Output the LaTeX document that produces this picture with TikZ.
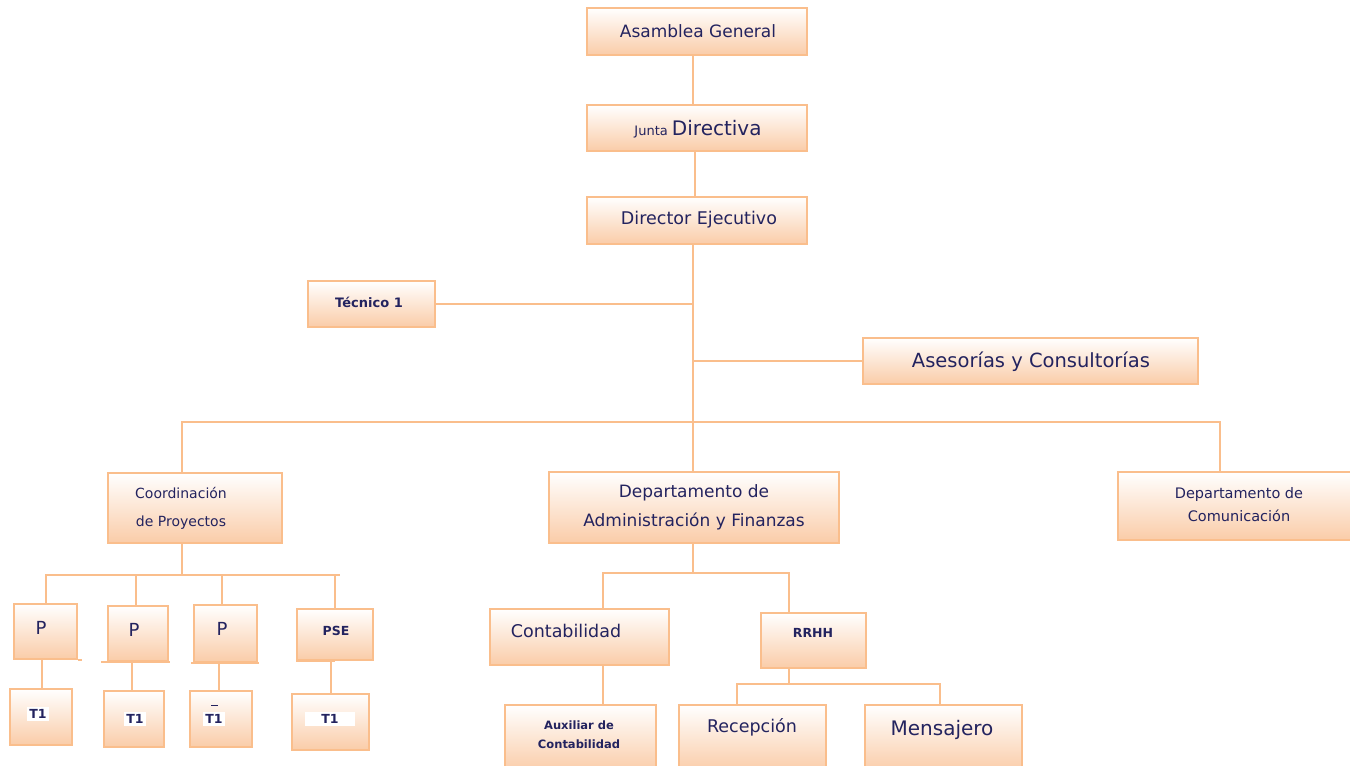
\documentclass[tikz,border=0pt]{standalone}
\usepackage{fontspec}
\setmainfont{DejaVu Sans}
\definecolor{bord}{RGB}{250,190,140}
\definecolor{peach}{RGB}{250,204,168}
\definecolor{ink}{RGB}{35,35,95}
\newcommand\orgbox[5]{\node[obox, minimum width={#4-#2}, minimum height={#5-#3}] (#1) at ({(#2+#4)/2},{(#3+#5)/2}) {};}
\tikzset{
  obox/.style={draw=bord, line width=2pt, top color=white, bottom color=peach, inner sep=0pt},
  link/.style={draw=bord, line width=2pt},
  lbl/.style={text=ink, inner sep=0pt, align=center},
  tlbl/.style={lbl, fill=white, inner sep=2pt, font=\bfseries\fontsize{12.5}{14}\selectfont},
}
\begin{document}
\begin{tikzpicture}[x=1pt,y=-1pt]
\useasboundingbox (0,0) rectangle (1350,766);
\fill[white] (0,0) rectangle (1350,766);
% boxes
\orgbox{asa}{587}{8}{807}{55}
\orgbox{jun}{587}{105}{807}{151}
\orgbox{dir}{587}{197}{807}{244}
\orgbox{tec}{308}{281}{435}{327}
\orgbox{ase}{863}{338}{1198}{384}
\orgbox{coo}{108}{473}{282}{543}
\orgbox{daf}{549}{472}{839}{543}
\orgbox{com}{1118}{472}{1360}{540}
\orgbox{pa}{14}{604}{77}{659}
\orgbox{pb}{108}{606}{168}{661}
\orgbox{pc}{194}{605}{257}{662}
\orgbox{pd}{297}{609}{373}{660}
\orgbox{ta}{10}{689}{72}{745}
\orgbox{tb}{104}{691}{164}{747}
\orgbox{tc}{190}{691}{252}{747}
\orgbox{td}{292}{694}{369}{750}
\orgbox{cont}{490}{609}{669}{665}
\orgbox{rrhh}{761}{613}{866}{668}
\orgbox{aux}{505}{705}{656}{772}
\orgbox{rec}{679}{705}{826}{772}
\orgbox{men}{865}{705}{1022}{772}
% small extensions under the P boxes
\draw[link] (pa.south east) -- ++(4,0);
\draw[link] (pb.south west) ++(-6,0) -- ++(69,0);
\draw[link] (pc.south west) ++(-2,0) -- ++(68,0);
\draw[link] (pd.south west) -- ++(39,0);
% coordinates
\coordinate (bus) at (693,422);
\coordinate (pbus) at (182,575);
\coordinate (dbus) at (693,573);
\coordinate (rbus) at (789,684);
% connectors
\draw[link] (asa.south -| 693,0) -- (jun.north -| 693,0);
\draw[link] (jun.south -| 695,0) -- (dir.north -| 695,0);
\draw[link] (dir.south -| bus) -- (daf.north -| bus);
\draw[link] (tec.east) -- (tec.east -| bus);
\draw[link] (ase.west) -- (ase.west -| bus);
\draw[link] (coo.north -| 182,0) -- (182,422) -- (1220,422) -- (com.north -| 1220,0);
\draw[link] (coo.south -| pbus) -- (pbus);
\draw[link] (pa.north -| 46,0) -- (46,575) -- (340,575);
\draw[link] (pb.north -| 136,0) -- (136,575);
\draw[link] (pc.north -| 222,0) -- (222,575);
\draw[link] (pd.north -| 335,0) -- (335,575);
\draw[link] (pa.south -| 42,0) -- (ta.north -| 42,0);
\draw[link] (pb.south -| 132,0) -- (tb.north -| 132,0);
\draw[link] (pc.south -| 219,0) -- (tc.north -| 219,0);
\draw[link] (pd.south -| 331,0) -- (td.north -| 331,0);
\draw[link] (daf.south -| dbus) -- (dbus);
\draw[link] (cont.north -| 603,0) -- (603,573) -- (789,573) -- (rrhh.north -| 789,0);
\draw[link] (cont.south -| 603,0) -- (aux.north -| 603,0);
\draw[link] (rrhh.south -| rbus) -- (rbus);
\draw[link] (rec.north -| 737,0) -- (737,684) -- (940,684) -- (men.north -| 940,0);
% labels
\node[lbl, font=\fontsize{17}{20}\selectfont] (tasa) at (698,31) {Asamblea General};
\node[lbl] (tjun) at (698,129) {\fontsize{13}{14}\selectfont Junta \fontsize{20}{23}\selectfont Directiva};
\node[lbl, font=\fontsize{17.5}{20}\selectfont] (tdir) at (699,220) {Director Ejecutivo};
\node[lbl, font=\bfseries\fontsize{13}{15}\selectfont] (ttec) at (369,302) {Técnico 1};
\node[lbl, font=\fontsize{19.5}{22}\selectfont] (tase) at (1031,362) {Asesorías y Consultorías};
\node[lbl, font=\fontsize{14}{28}\selectfont] (tcoo) at (181,508) {Coordinación\\de Proyectos};
\node[lbl, font=\fontsize{17}{29}\selectfont] (tdaf) at (694,507) {Departamento de\\Administración y Finanzas};
\node[lbl, font=\fontsize{14.5}{23}\selectfont] (tcom) at (1239,505) {Departamento de\\Comunicación};
\node[lbl, font=\fontsize{18}{20}\selectfont] (tpa) at (41,628) {P};
\node[lbl, font=\fontsize{18}{20}\selectfont] (tpb) at (134,630) {P};
\node[lbl, font=\fontsize{18}{20}\selectfont] (tpc) at (222,629) {P};
\node[lbl, font=\bfseries\fontsize{12.5}{14}\selectfont] (tpd) at (336,631) {PSE};
\node[tlbl] (tta) at (38,714) {T1};
\node[tlbl] (ttb) at (135,719) {T1};
\node[tlbl] (ttc) at (214,719) {T1};
\draw[ink, line width=1pt] (211,705) -- (218,705);
\node[tlbl, minimum width=50pt] (ttd) at (330,719) {T1};
\node[lbl, font=\fontsize{17.5}{20}\selectfont] (tcont) at (566,631) {Contabilidad};
\node[lbl, font=\bfseries\fontsize{12.5}{14}\selectfont] (trrhh) at (813,633) {RRHH};
\node[lbl, font=\bfseries\fontsize{11.5}{19}\selectfont] (taux) at (579,735) {Auxiliar de\\Contabilidad};
\node[lbl, font=\fontsize{17.5}{20}\selectfont] (trec) at (752,727) {Recepción};
\node[lbl, font=\fontsize{20}{23}\selectfont] (tmen) at (942,730) {Mensajero};
\end{tikzpicture}
\end{document}
